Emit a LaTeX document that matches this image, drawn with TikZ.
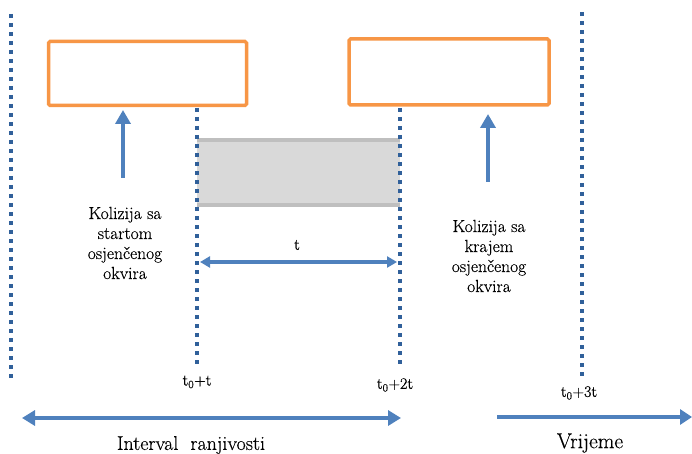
\documentclass[tikz,border=0pt]{standalone}
\usepackage{fontspec}
\setmainfont{Latin Modern Roman}[FakeBold=0.35]
\usepackage{tikz}
\usetikzlibrary{arrows.meta,calc,positioning}
\definecolor{frameorange}{HTML}{F79646}
\definecolor{arrowblue}{HTML}{4F81BD}
\definecolor{dotblue}{HTML}{30609A}
\definecolor{shadefill}{HTML}{D9D9D9}
\definecolor{shadeedge}{HTML}{BFBFBF}

\begin{document}
\begin{tikzpicture}[x=1pt,y=-1pt,
  frame/.style={draw=frameorange,fill=white,line width=3.5pt,rounded corners=1.5pt,
    inner sep=0pt},
  shadebox/.style={fill=shadefill,draw=none,inner sep=0pt,
    minimum width=203pt,minimum height=69pt},
  band/.style={draw=shadeedge,line width=4pt},
  dots/.style={draw=dotblue,line width=4pt,dash pattern=on 4pt off 5pt},
  note/.style={align=center,inner sep=0pt,font=\fontsize{17.5}{20}\selectfont},
  tick/.style={inner sep=0pt,font=\fontsize{16}{18}\selectfont},
  axis/.style={inner sep=0pt,font=\fontsize{20}{24}\selectfont},
  up/.style={-{Triangle[length=14pt,width=15pt]},draw=arrowblue,line width=4pt},
  span/.style={{Triangle[length=10pt,width=11pt]}-{Triangle[length=10pt,width=11pt]},
    draw=arrowblue,line width=3.5pt},
  timeline/.style={draw=arrowblue,line width=4.5pt}
]
\useasboundingbox (0,0) rectangle (692,454);
\node[frame,minimum width=198pt,minimum height=64pt] (boxA) at (147.5,73.5) {};
\node[frame,minimum width=200pt,minimum height=66pt] (boxB) at (449,72) {};
\node[shadebox] (shade) at (298.5,172.5) {};
\draw[band] ([yshift=-2pt]shade.north west) -- ([yshift=-2pt]shade.north east);
\draw[band] ([yshift=2pt]shade.south west) -- ([yshift=2pt]shade.south east);

\node[tick] (tA) at (197,382) {t\textsubscript{0}+t};
\node[tick] (tB) at (395,385) {t\textsubscript{0}+2t};
\node[tick] (tC) at (579,393) {t\textsubscript{0}+3t};
\coordinate (leftTop) at (11,14);
\coordinate (leftEnd) at (11,378);
\coordinate (lineA) at (197,108);
\coordinate (lineB) at (400,108);
\coordinate (lineC) at (582,12);
\draw[dots] (leftTop) -- (leftEnd);
\draw[dots] (lineA) -- (lineA |- 0,367);
\draw[dots] (lineB) -- (lineB |- 0,367);
\draw[dots] (lineC) -- (lineC |- 0,376);

\coordinate (footA) at (123,178);
\coordinate (footB) at (488,182);
\draw[up] (footA) -- (footA |- 0,110);
\draw[up] (footB) -- (footB |- 0,114);
\node[note] (noteA) at (125,243) {Kolizija sa\\startom\\osjenčenog\\okvira};
\node[note] (noteB) at (489,256) {Kolizija sa\\krajem\\osjenčenog\\okvira};

\coordinate (spanL) at (200,262);
\coordinate (spanR) at (397,262);
\draw[span] (spanL) -- (spanR);
\node[tick] (tlabel) at (297,245) {t};

\coordinate (intL) at (22,418);
\coordinate (intR) at (401,418);
\coordinate (timeL) at (497,417);
\coordinate (timeR) at (692,417);
\draw[timeline,{Triangle[length=13pt,width=15pt]}-{Triangle[length=13pt,width=15pt]}] (intL) -- (intR);
\draw[timeline,-{Triangle[length=12pt,width=15pt]}] (timeL) -- (timeR);
\node[axis] (interval) at (191,445) {Interval\ \ ranjivosti};
\node[axis,font=\fontsize{21.5}{24}\selectfont] (time) at (590,443) {Vrijeme};
\end{tikzpicture}
\end{document}
